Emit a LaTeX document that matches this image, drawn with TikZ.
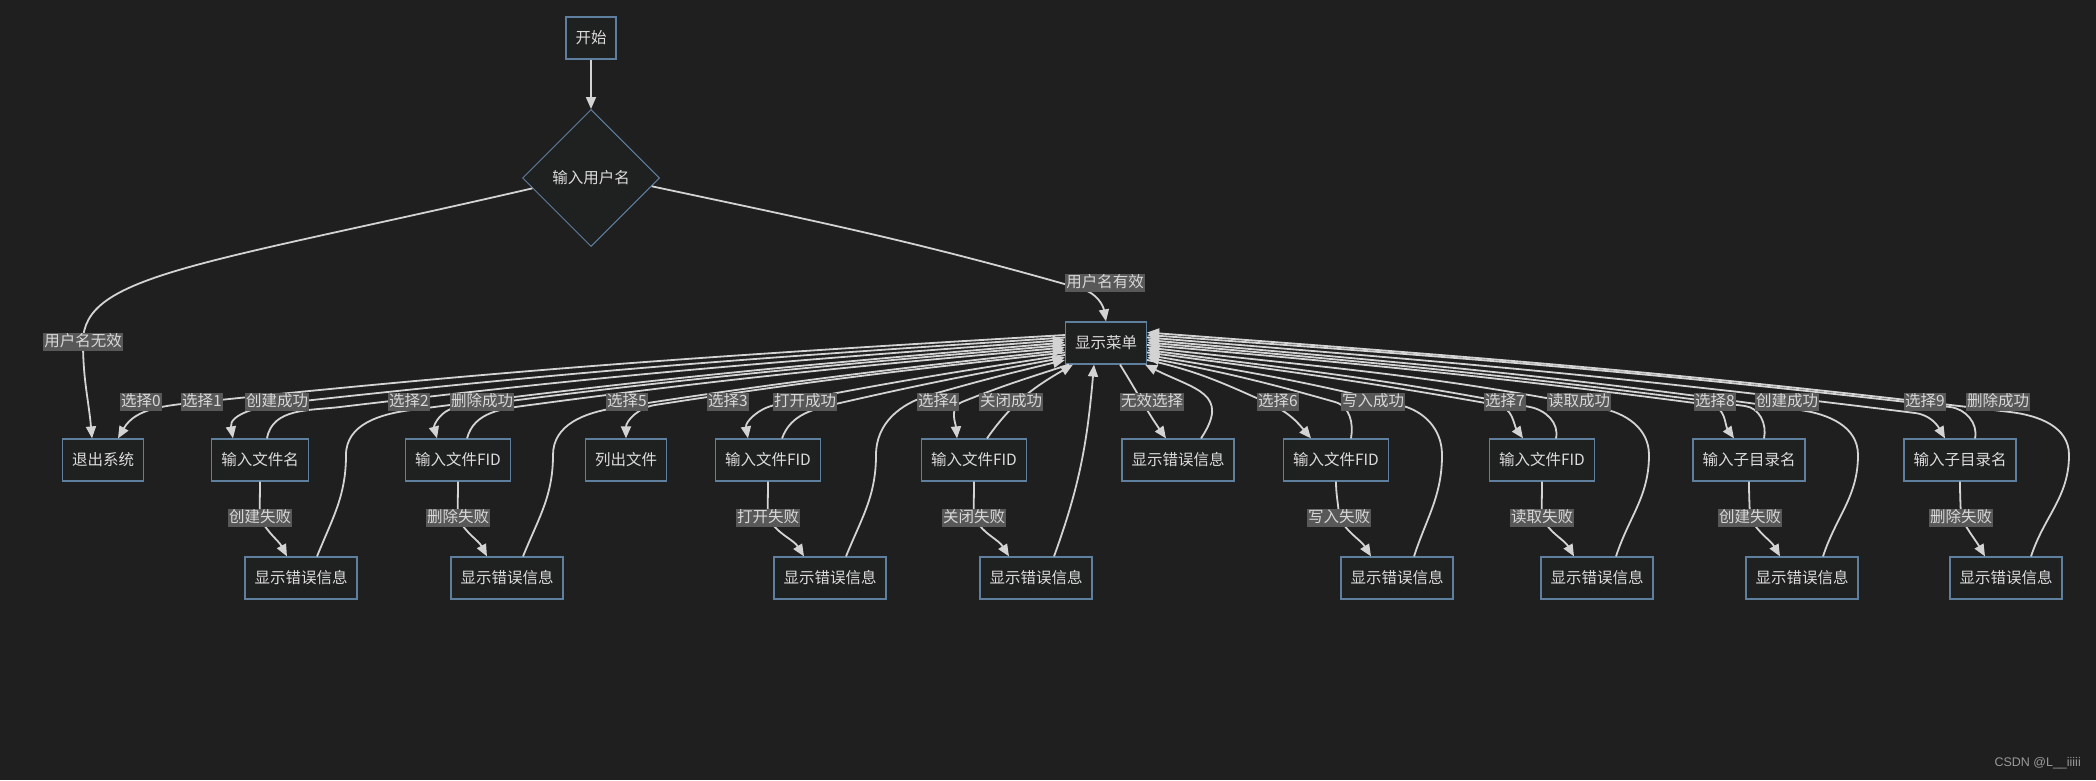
\documentclass[tikz,border=0pt]{standalone}
\usepackage{fontspec}
\newfontfamily\cjk{Noto Sans CJK SC}
\newfontfamily\wmfont{Liberation Sans}
\usetikzlibrary{arrows.meta,shapes.geometric,calc}
\definecolor{bg}{HTML}{1F1F1F}
\definecolor{nodef}{HTML}{1F2020}
\definecolor{nodeb}{HTML}{5F7F9F}
\definecolor{lncol}{HTML}{D3D3D3}
\definecolor{lblbg}{HTML}{585858}
\definecolor{lbltxt}{HTML}{D8D8D8}
\definecolor{txt}{HTML}{DCDCDC}
\definecolor{wmcol}{HTML}{9A9A9A}
\newcommand\myft{\cjk\fontsize{15.5pt}{18pt}\selectfont}
\begin{document}
\begin{tikzpicture}[x=1pt,y=1pt,
  box/.style={draw=nodeb, fill=nodef, line width=1.2pt, text=txt, font=\myft,
    minimum height=42pt, inner xsep=9.5pt, inner ysep=0pt},
  dia/.style={diamond, draw=nodeb, fill=nodef, line width=1pt, minimum width=137pt,
    minimum height=137pt, inner sep=0pt, text=txt, font=\myft},
  lbl/.style={fill=lblbg, text=lbltxt, font=\myft, inner sep=1pt, text height=12pt, text depth=3.5pt},
  ln/.style={draw=lncol, line width=1.8pt, -{Triangle[length=12pt,width=10pt]}}
]
\path[fill=bg] (0,0) rectangle (2096,-780);
\useasboundingbox (0,0) rectangle (2096,-780);

% nodes
\node[box] (start) at (591,-38) {开始};
\node[dia] (dia) at (591,-178) {输入用户名};
\node[box] (menu) at (1106,-343) {显示菜单};
\node[box] (exit) at (103,-460) {退出系统};
\node[box] (in1) at (260,-460) {输入文件名};
\node[box] (in2) at (458,-460) {输入文件FID};
\node[box] (ls) at (626,-460) {列出文件};
\node[box] (in3) at (768,-460) {输入文件FID};
\node[box] (in4) at (974,-460) {输入文件FID};
\node[box] (einv) at (1178,-460) {显示错误信息};
\node[box] (in6) at (1336,-460) {输入文件FID};
\node[box] (in7) at (1542,-460) {输入文件FID};
\node[box] (in8) at (1749,-460) {输入子目录名};
\node[box] (in9) at (1960,-460) {输入子目录名};
\node[box] (e1) at (301,-578) {显示错误信息};
\node[box] (e2) at (507,-578) {显示错误信息};
\node[box] (e3) at (830,-578) {显示错误信息};
\node[box] (e4) at (1036,-578) {显示错误信息};
\node[box] (e6) at (1397,-578) {显示错误信息};
\node[box] (e7) at (1597,-578) {显示错误信息};
\node[box] (e8) at (1802,-578) {显示错误信息};
\node[box] (e9) at (2006,-578) {显示错误信息};

% label coordinates
\coordinate (lu0) at (83,-342);
\coordinate (lu1) at (1105,-283);
\coordinate (f1) at (260,-518);
\coordinate (f2) at (458,-518);
\coordinate (f3) at (768,-518);
\coordinate (f4) at (974,-518);
\coordinate (f6) at (1339,-518);
\coordinate (f7) at (1542,-518);
\coordinate (f8) at (1750,-518);
\coordinate (f9) at (1961,-518);

% top
\draw[ln] (start) -- (dia);
\draw[ln] ($(dia.west)!0.15!(dia.south)$) .. controls (200,-265) and (83,-275) .. (lu0) to[out=-90,in=95] ([xshift=-11]exit.north);
\draw[ln] ($(dia.east)!0.12!(dia.south)$) to[out=-12,in=164] (1082,-289) to[out=-16,in=100] (menu.north);

% left fan
\draw[ln] ([yshift=8]menu.west) to[out=183.4,in=5.9] (200,-402) to[out=185.9,in=60] ([xshift=15]exit.north);
\draw[ln] ([yshift=5.5]menu.west) to[out=183.8,in=6.3] (285,-403) to[out=186.3,in=100] ([xshift=-27]in1.north);
\draw[ln] ([xshift=7]in1.north) to[out=80,in=186.8] (340,-407) to[out=6.8,in=184.3] ([yshift=3]menu.west);
\draw[ln] ([xshift=16]e1.north) to[out=68,in=270] (346,-455) to[out=90,in=187.4] (411,-410) to[out=7.4,in=184.9] ([yshift=0.5]menu.west);
\draw[ln] ([yshift=-2]menu.west) to[out=184.9,in=7.4] (455,-408) to[out=187.4,in=105] ([xshift=-21]in2.north);
\draw[ln] ([xshift=9]in2.north) to[out=75,in=187.6] (530,-405) to[out=7.6,in=185.1] ([yshift=-4.5]menu.west);
\draw[ln] ([xshift=16]e2.north) to[out=68,in=270] (553,-455) to[out=90,in=188.8] (615,-408) to[out=8.8,in=186.3] ([yshift=-7]menu.west);
\draw[ln] ([yshift=-9.5]menu.west) to[out=186.3,in=8.8] (655,-405) to[out=188.8,in=90] (ls.north);
\draw[ln] ([yshift=-12]menu.west) to[out=188.8,in=11.3] (775,-405) to[out=191.3,in=100] ([xshift=-20]in3.north);
\draw[ln] ([xshift=14]in3.north) to[out=70,in=192.9] (840,-403) to[out=12.9,in=190.4] ([yshift=-14.5]menu.west);
\draw[ln] ([xshift=16]e3.north) to[out=68,in=270] (876,-455) to[out=90,in=196] (930,-395) to[out=16,in=193.5] ([yshift=-17]menu.west);
\draw[ln] ([xshift=4]menu.south west) to[out=198,in=22] (962,-402) to[out=202,in=95] ([xshift=-17]in4.north);
\draw[ln] ([xshift=13]in4.north) to[out=55,in=210] ([xshift=8]menu.south west);
\draw[ln] ([xshift=18]e4.north) to[out=70,in=265] ([xshift=-12]menu.south);

% right fan
\draw[ln] ([xshift=14]menu.south) to[out=-58,in=125] ([xshift=-12]einv.north);
\draw[ln] ([xshift=23]einv.north) .. controls +(30,45) and +(50,-25) .. ([xshift=-2]menu.south east);
\draw[ln] ([yshift=-17]menu.east) to[out=-12,in=156] (1270,-404) to[out=-24,in=130] ([xshift=-25]in6.north);
\draw[ln] ([xshift=15]in6.north) to[out=80,in=-16] (1335,-402) to[out=164,in=-11] ([yshift=-14.5]menu.east);
\draw[ln] ([xshift=17]e6.north) to[out=72,in=270] (1442,-455) to[out=90,in=-14] (1400,-405) to[out=166,in=-9.5] ([yshift=-12]menu.east);
\draw[ln] ([yshift=-9.5]menu.east) to[out=-7.5,in=170] (1497,-405) to[out=-10,in=125] ([xshift=-19]in7.north);
\draw[ln] ([xshift=14]in7.north) to[out=78,in=-11] (1530,-407) to[out=169,in=-7.5] ([yshift=-7]menu.east);
\draw[ln] ([xshift=19]e7.north) to[out=72,in=270] (1649,-455) to[out=90,in=-11] (1600,-408) to[out=169,in=-6.5] ([yshift=-4.5]menu.east);
\draw[ln] ([yshift=-2]menu.east) to[out=-5,in=172.5] (1710,-405) to[out=-7.5,in=125] ([xshift=-15]in8.north);
\draw[ln] ([xshift=15]in8.north) to[out=78,in=-7.5] (1745,-406) to[out=172.5,in=-5] ([yshift=0.5]menu.east);
\draw[ln] ([xshift=21]e8.north) to[out=72,in=270] (1858,-455) to[out=90,in=-8] (1800,-410) to[out=172,in=-5] ([yshift=3]menu.east);
\draw[ln] ([yshift=5.5]menu.east) to[out=-4.6,in=172.9] (1915,-413) to[out=-7.1,in=120] ([xshift=-15]in9.north);
\draw[ln] ([xshift=15]in9.north) to[out=78,in=-6.6] (1950,-407) to[out=173.4,in=-4.1] ([yshift=8]menu.east);
\draw[ln] ([xshift=25]e9.north) to[out=72,in=270] (2069,-455) to[out=90,in=-6.8] (2010,-412) to[out=173.2,in=-4.3] ([yshift=10.5]menu.east);

% failures
\draw[ln] (in1.south) to[out=-90,in=92] (f1) to[out=-62,in=118] ([xshift=-14]e1.north);
\draw[ln] (in2.south) to[out=-90,in=92] (f2) to[out=-62,in=118] ([xshift=-20]e2.north);
\draw[ln] (in3.south) to[out=-90,in=92] (f3) to[out=-58,in=122] ([xshift=-26]e3.north);
\draw[ln] (in4.south) to[out=-90,in=92] (f4) to[out=-58,in=122] ([xshift=-27]e4.north);
\draw[ln] (in6.south) to[out=-90,in=92] (f6) to[out=-58,in=122] ([xshift=-26]e6.north);
\draw[ln] (in7.south) to[out=-90,in=92] (f7) to[out=-60,in=120] ([xshift=-23]e7.north);
\draw[ln] (in8.south) to[out=-90,in=92] (f8) to[out=-60,in=120] ([xshift=-22]e8.north);
\draw[ln] (in9.south) to[out=-90,in=92] (f9) to[out=-60,in=120] ([xshift=-21]e9.north);

% labels
\node[lbl] (t0) at (lu0) {用户名无效};
\node[lbl] (t1) at (lu1) {用户名有效};
\node[lbl] (s0) at (141,-402) {选择0};
\node[lbl] (s1) at (202,-402) {选择1};
\node[lbl] (c1) at (277,-402) {创建成功};
\node[lbl] (s2) at (409,-402) {选择2};
\node[lbl] (c2) at (482,-402) {删除成功};
\node[lbl] (s5) at (627,-402) {选择5};
\node[lbl] (s3) at (728,-402) {选择3};
\node[lbl] (c3) at (805,-402) {打开成功};
\node[lbl] (s4) at (938,-402) {选择4};
\node[lbl] (c4) at (1011,-402) {关闭成功};
\node[lbl] (sx) at (1152,-402) {无效选择};
\node[lbl] (s6) at (1278,-402) {选择6};
\node[lbl] (c6) at (1373,-402) {写入成功};
\node[lbl] (s7) at (1505,-402) {选择7};
\node[lbl] (c7) at (1579,-402) {读取成功};
\node[lbl] (s8) at (1715,-402) {选择8};
\node[lbl] (c8) at (1787,-402) {创建成功};
\node[lbl] (s9) at (1925,-402) {选择9};
\node[lbl] (c9) at (1998,-402) {删除成功};
\node[lbl] (g1) at (f1) {创建失败};
\node[lbl] (g2) at (f2) {删除失败};
\node[lbl] (g3) at (f3) {打开失败};
\node[lbl] (g4) at (f4) {关闭失败};
\node[lbl] (g6) at (f6) {写入失败};
\node[lbl] (g7) at (f7) {读取失败};
\node[lbl] (g8) at (f8) {创建失败};
\node[lbl] (g9) at (f9) {删除失败};

\node[font=\wmfont\fontsize{12.5pt}{14pt}\selectfont, text=wmcol, anchor=east, inner sep=0pt] (wmk) at (2081,-763) {CSDN @L\_\_iiiii};
\end{tikzpicture}
\end{document}
